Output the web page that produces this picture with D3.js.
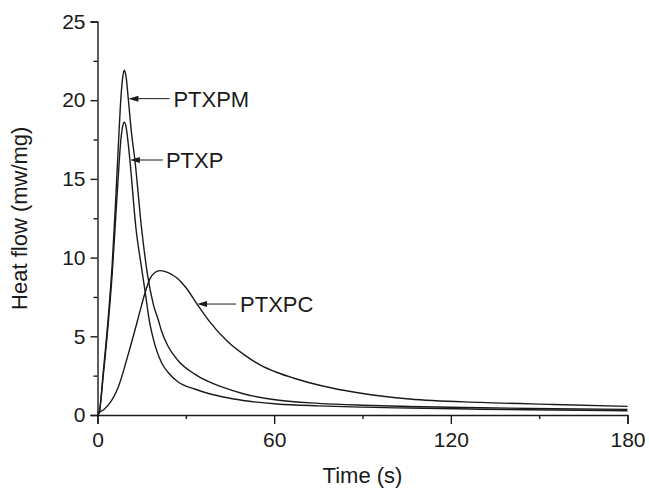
<!DOCTYPE html>
<html>
<head>
<meta charset="utf-8">
<script src="https://cdn.jsdelivr.net/npm/d3@7"></script>
<style>
  body { margin: 0; background: #fff; }
  svg { display: block; }
  text { font-family: "Liberation Sans", Arial, sans-serif; fill: #1a1a1a; }
</style>
</head>
<body>
<svg id="chart" width="649" height="488"></svg>
<script>
// heat flow curves: time (s) and heat flow (mw/mg)
const ptxpm_t = [0, 0.5, 2, 4, 5, 6, 7, 8, 8.6, 9.1, 9.7, 10.5, 11.5, 12.7, 15, 17, 19, 20.7, 21.8, 24, 27.4, 33, 38, 42.7, 49.5, 61, 75, 90, 106, 130, 155, 180]
const ptxpm_v = [0, 0.1, 2.8, 7.0, 9.6, 13.0, 16.8, 20.3, 21.5, 21.9, 21.5, 20.0, 18.0, 16.2, 11.8, 8.9, 7.0, 6.0, 5.3, 4.35, 3.45, 2.6, 2.1, 1.75, 1.35, 0.95, 0.74, 0.62, 0.54, 0.46, 0.4, 0.36]

const ptxp_t = [0, 0.5, 2, 4, 5, 6, 7, 7.8, 8.5, 9.1, 9.7, 10.4, 11, 13.1, 15, 16.2, 17.6, 19, 21.8, 24, 27.4, 33, 38, 42.7, 49.5, 61, 75, 90, 106, 130, 155, 180]
const ptxp_v = [0, 0.1, 2.6, 6.6, 9.0, 12.0, 15.0, 17.2, 18.3, 18.6, 18.3, 17.3, 16.2, 11.8, 9.3, 7.8, 6.0, 4.8, 3.3, 2.7, 2.1, 1.65, 1.35, 1.14, 0.92, 0.7, 0.58, 0.5, 0.44, 0.37, 0.32, 0.27]

const ptxpc_t = [0, 0.85, 3.7, 7.1, 10.5, 13.3, 15, 16.2, 17.8, 19.5, 21.2, 24, 27, 30, 33.8, 38, 44, 50, 55, 61, 66.5, 72, 80, 89, 106, 130, 155, 180]
const ptxpc_v = [0.15, 0.2, 0.64, 1.8, 3.9, 5.8, 7.0, 7.8, 8.65, 9.05, 9.17, 9.05, 8.7, 8.1, 7.05, 5.95, 4.7, 3.8, 3.2, 2.7, 2.35, 2.05, 1.7, 1.4, 1.02, 0.8, 0.67, 0.55]

// axis ticks
const x_major = [0, 60, 120, 180]
const x_minor = [30, 90, 150]
const y_major = [0, 5, 10, 15, 20, 25]
const y_minor = [2.5, 7.5, 12.5, 17.5, 22.5]

// curve labels: name, and the point on the curve the arrow touches
const label_names = ["PTXPM", "PTXP", "PTXPC"]
const label_t = [10.5, 11.0, 33.8]
const label_v = [20.1, 16.2, 7.05]

const margin = { top: 21.5, left: 97.5 }
const width = 530
const height = 393.5

const svg = d3.select("#chart")
const g = svg.append("g")
  .attr("transform", `translate(${margin.left},${margin.top})`)

const x = d3.scaleLinear().domain([0, 180]).range([0, width])
const y = d3.scaleLinear().domain([0, 25]).range([height, 0])

// axes
function style_axis(sel) {
  sel.selectAll("path, line").attr("stroke", "#1a1a1a").attr("stroke-width", 1.4)
  sel.selectAll("text").attr("font-size", 21)
}

g.append("g")
  .attr("transform", `translate(0,${height})`)
  .call(d3.axisBottom(x).tickValues(x_minor).tickSize(4).tickFormat(""))
  .call(style_axis)
  .select(".domain").remove()

g.append("g")
  .attr("transform", `translate(0,${height})`)
  .call(d3.axisBottom(x).tickValues(x_major).tickSizeOuter(0).tickSize(9).tickPadding(8))
  .call(style_axis)

g.append("g")
  .call(d3.axisLeft(y).tickValues(y_minor).tickSize(4).tickFormat(""))
  .call(style_axis)
  .select(".domain").remove()

g.append("g")
  .call(d3.axisLeft(y).tickValues(y_major).tickSizeOuter(0).tickSize(7).tickPadding(5))
  .call(style_axis)

// axis titles
g.append("text")
  .attr("x", width / 2)
  .attr("y", height + 68)
  .attr("text-anchor", "middle")
  .attr("font-size", 22)
  .text("Time (s)")

g.append("text")
  .attr("transform", `translate(${-margin.left + 27},${height / 2}) rotate(-90)`)
  .attr("text-anchor", "middle")
  .attr("font-size", 22)
  .text("Heat flow (mw/mg)")

// curves
const line = d3.line()
  .x(d => x(d[0]))
  .y(d => y(d[1]))
  .curve(d3.curveMonotoneX)

const series = [
  d3.zip(ptxpm_t, ptxpm_v),
  d3.zip(ptxp_t, ptxp_v),
  d3.zip(ptxpc_t, ptxpc_v)
]

g.append("g")
  .selectAll("path")
  .data(series).enter()
  .append("path")
  .attr("d", line)
  .attr("fill", "none")
  .attr("stroke", "#1a1a1a")
  .attr("stroke-width", 1.4)

// annotations with arrows
const line_len = [41, 33, 39]
const text_gap = [45, 36, 43]

const ann = g.append("g")
label_names.forEach((name, i) => {
  const tx = x(label_t[i])
  const ty = y(label_v[i])
  ann.append("line")
    .attr("x1", tx + 8).attr("x2", tx + line_len[i])
    .attr("y1", ty).attr("y2", ty)
    .attr("stroke", "#1a1a1a")
    .attr("stroke-width", 1)
  ann.append("path")
    .attr("d", `M${tx},${ty}L${tx + 10},${ty - 3}L${tx + 10},${ty + 3}Z`)
    .attr("fill", "#1a1a1a")
  ann.append("text")
    .attr("x", tx + text_gap[i])
    .attr("y", ty)
    .attr("dy", "0.36em")
    .attr("font-size", 22)
    .text(name)
})
</script>
</body>
</html>
